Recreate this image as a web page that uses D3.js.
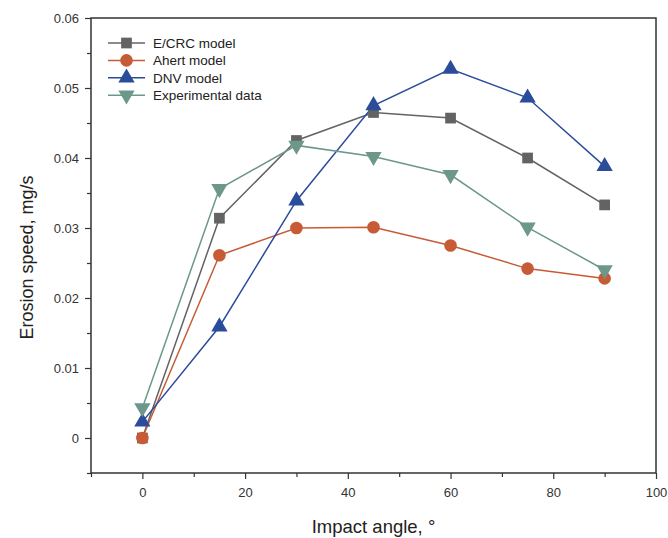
<!DOCTYPE html>
<html>
<head>
<meta charset="utf-8">
<script src="https://cdn.jsdelivr.net/npm/d3@7/dist/d3.min.js"></script>
<style>
  html, body { margin: 0; padding: 0; background: #fff; }
  svg { display: block; font-family: "Liberation Sans", Arial, sans-serif; }
</style>
</head>
<body>
<svg id="chart" width="668" height="538"></svg>
<script>
// Impact angles (degrees)
const angles = [0, 15, 30, 45, 60, 75, 90];

// Erosion speed, mg/s
const ecrcModel = [0, 0.0314, 0.0425, 0.0465, 0.0457, 0.0400, 0.0333];
const ahertModel = [0, 0.0261, 0.0300, 0.0301, 0.0275, 0.0242, 0.0228];
const dnvModel = [0.0023, 0.0159, 0.0339, 0.0475, 0.0527, 0.0486, 0.0388];
const experimental = [0.0043, 0.0356, 0.0418, 0.0402, 0.0376, 0.0301, 0.0240];

const seriesNames = ["E/CRC model", "Ahert model", "DNV model", "Experimental data"];

const xTicks = [0, 20, 40, 60, 80, 100];
const yTicks = [0, 0.01, 0.02, 0.03, 0.04, 0.05, 0.06];

const series = [
  { name: seriesNames[0], values: ecrcModel, color: "#636363", symbol: d3.symbolSquare, size: 115, rot: 0 },
  { name: seriesNames[1], values: ahertModel, color: "#c65b36", symbol: d3.symbolCircle, size: 125, rot: 0 },
  { name: seriesNames[2], values: dnvModel, color: "#2a4c9b", symbol: d3.symbolTriangle, size: 115, rot: 0 },
  { name: seriesNames[3], values: experimental, color: "#6c978a", symbol: d3.symbolTriangle, size: 115, rot: 180 }
];

const svg = d3.select("#chart");
const plot = { left: 91, right: 656, top: 18, bottom: 473 };

const x = d3.scaleLinear().domain([-10, 100]).range([plot.left, plot.right]);
const y = d3.scaleLinear().domain([-0.005, 0.06]).range([plot.bottom, plot.top]);

const axisColor = "#333";

// Frame
svg.append("rect")
  .attr("x", plot.left).attr("y", plot.top)
  .attr("width", plot.right - plot.left).attr("height", plot.bottom - plot.top)
  .attr("fill", "none").attr("stroke", axisColor).attr("stroke-width", 1.5);

// Minor ticks
const xMinor = d3.range(-10, 101, 10).filter(v => !xTicks.includes(v));
const yMinor = d3.range(-0.005, 0.0601, 0.01).map(v => +v.toFixed(3));

svg.append("g")
  .attr("transform", `translate(0,${plot.bottom})`)
  .call(d3.axisBottom(x).tickValues(xMinor).tickSize(4).tickFormat(""))
  .call(g => g.select(".domain").remove())
  .call(g => g.selectAll("line").attr("stroke", axisColor).attr("stroke-width", 1.2));

svg.append("g")
  .attr("transform", `translate(${plot.left},0)`)
  .call(d3.axisLeft(y).tickValues(yMinor).tickSize(4).tickFormat(""))
  .call(g => g.select(".domain").remove())
  .call(g => g.selectAll("line").attr("stroke", axisColor).attr("stroke-width", 1.2));

// Major ticks with labels
svg.append("g")
  .attr("transform", `translate(0,${plot.bottom})`)
  .call(d3.axisBottom(x).tickValues(xTicks).tickSize(6).tickPadding(9).tickFormat(d3.format("d")))
  .call(g => g.select(".domain").remove())
  .call(g => g.selectAll("line").attr("stroke", axisColor).attr("stroke-width", 1.2))
  .call(g => g.selectAll("text").attr("fill", "#333").attr("font-size", 13)
    .attr("font-family", "Liberation Sans, Arial, sans-serif"));

svg.append("g")
  .attr("transform", `translate(${plot.left},0)`)
  .call(d3.axisLeft(y).tickValues(yTicks).tickSize(6).tickPadding(6)
    .tickFormat(d => d === 0 ? "0" : d3.format(".2f")(d)))
  .call(g => g.select(".domain").remove())
  .call(g => g.selectAll("line").attr("stroke", axisColor).attr("stroke-width", 1.2))
  .call(g => g.selectAll("text").attr("fill", "#333").attr("font-size", 13)
    .attr("font-family", "Liberation Sans, Arial, sans-serif"));

// Axis titles
svg.append("text")
  .attr("x", (plot.left + plot.right) / 2).attr("y", 533)
  .attr("text-anchor", "middle").attr("font-size", 18.5).attr("fill", "#222")
  .text("Impact angle, °");

svg.append("text")
  .attr("transform", `translate(33,${(plot.top + plot.bottom) / 2 + 12}) rotate(-90)`)
  .attr("text-anchor", "middle").attr("font-size", 18).attr("fill", "#222")
  .text("Erosion speed, mg/s");

// Lines and markers
const line = d3.line().x((d, i) => x(angles[i])).y(d => y(d));

series.forEach(s => {
  svg.append("path")
    .datum(s.values)
    .attr("d", line)
    .attr("fill", "none")
    .attr("stroke", s.color)
    .attr("stroke-width", 1.5);
});

series.forEach(s => {
  const shape = d3.symbol().type(s.symbol).size(s.size);
  svg.append("g").selectAll("path")
    .data(s.values)
    .join("path")
    .attr("d", shape)
    .attr("transform", (d, i) => `translate(${x(angles[i])},${y(d)}) rotate(${s.rot})`)
    .attr("fill", s.color);
});

// Legend
const legend = svg.append("g").attr("transform", "translate(108,43)");
series.forEach((s, i) => {
  const g = legend.append("g").attr("transform", `translate(0,${i * 17.4})`);
  g.append("line").attr("x1", 0).attr("x2", 37).attr("y1", 0).attr("y2", 0)
    .attr("stroke", s.color).attr("stroke-width", 1.5);
  g.append("path")
    .attr("d", d3.symbol().type(s.symbol).size(s.size)())
    .attr("transform", `translate(18.5,0) rotate(${s.rot})`)
    .attr("fill", s.color);
  g.append("text").attr("x", 45).attr("y", 5)
    .attr("font-size", 13.5).attr("fill", "#222")
    .text(s.name);
});
</script>
</body>
</html>
